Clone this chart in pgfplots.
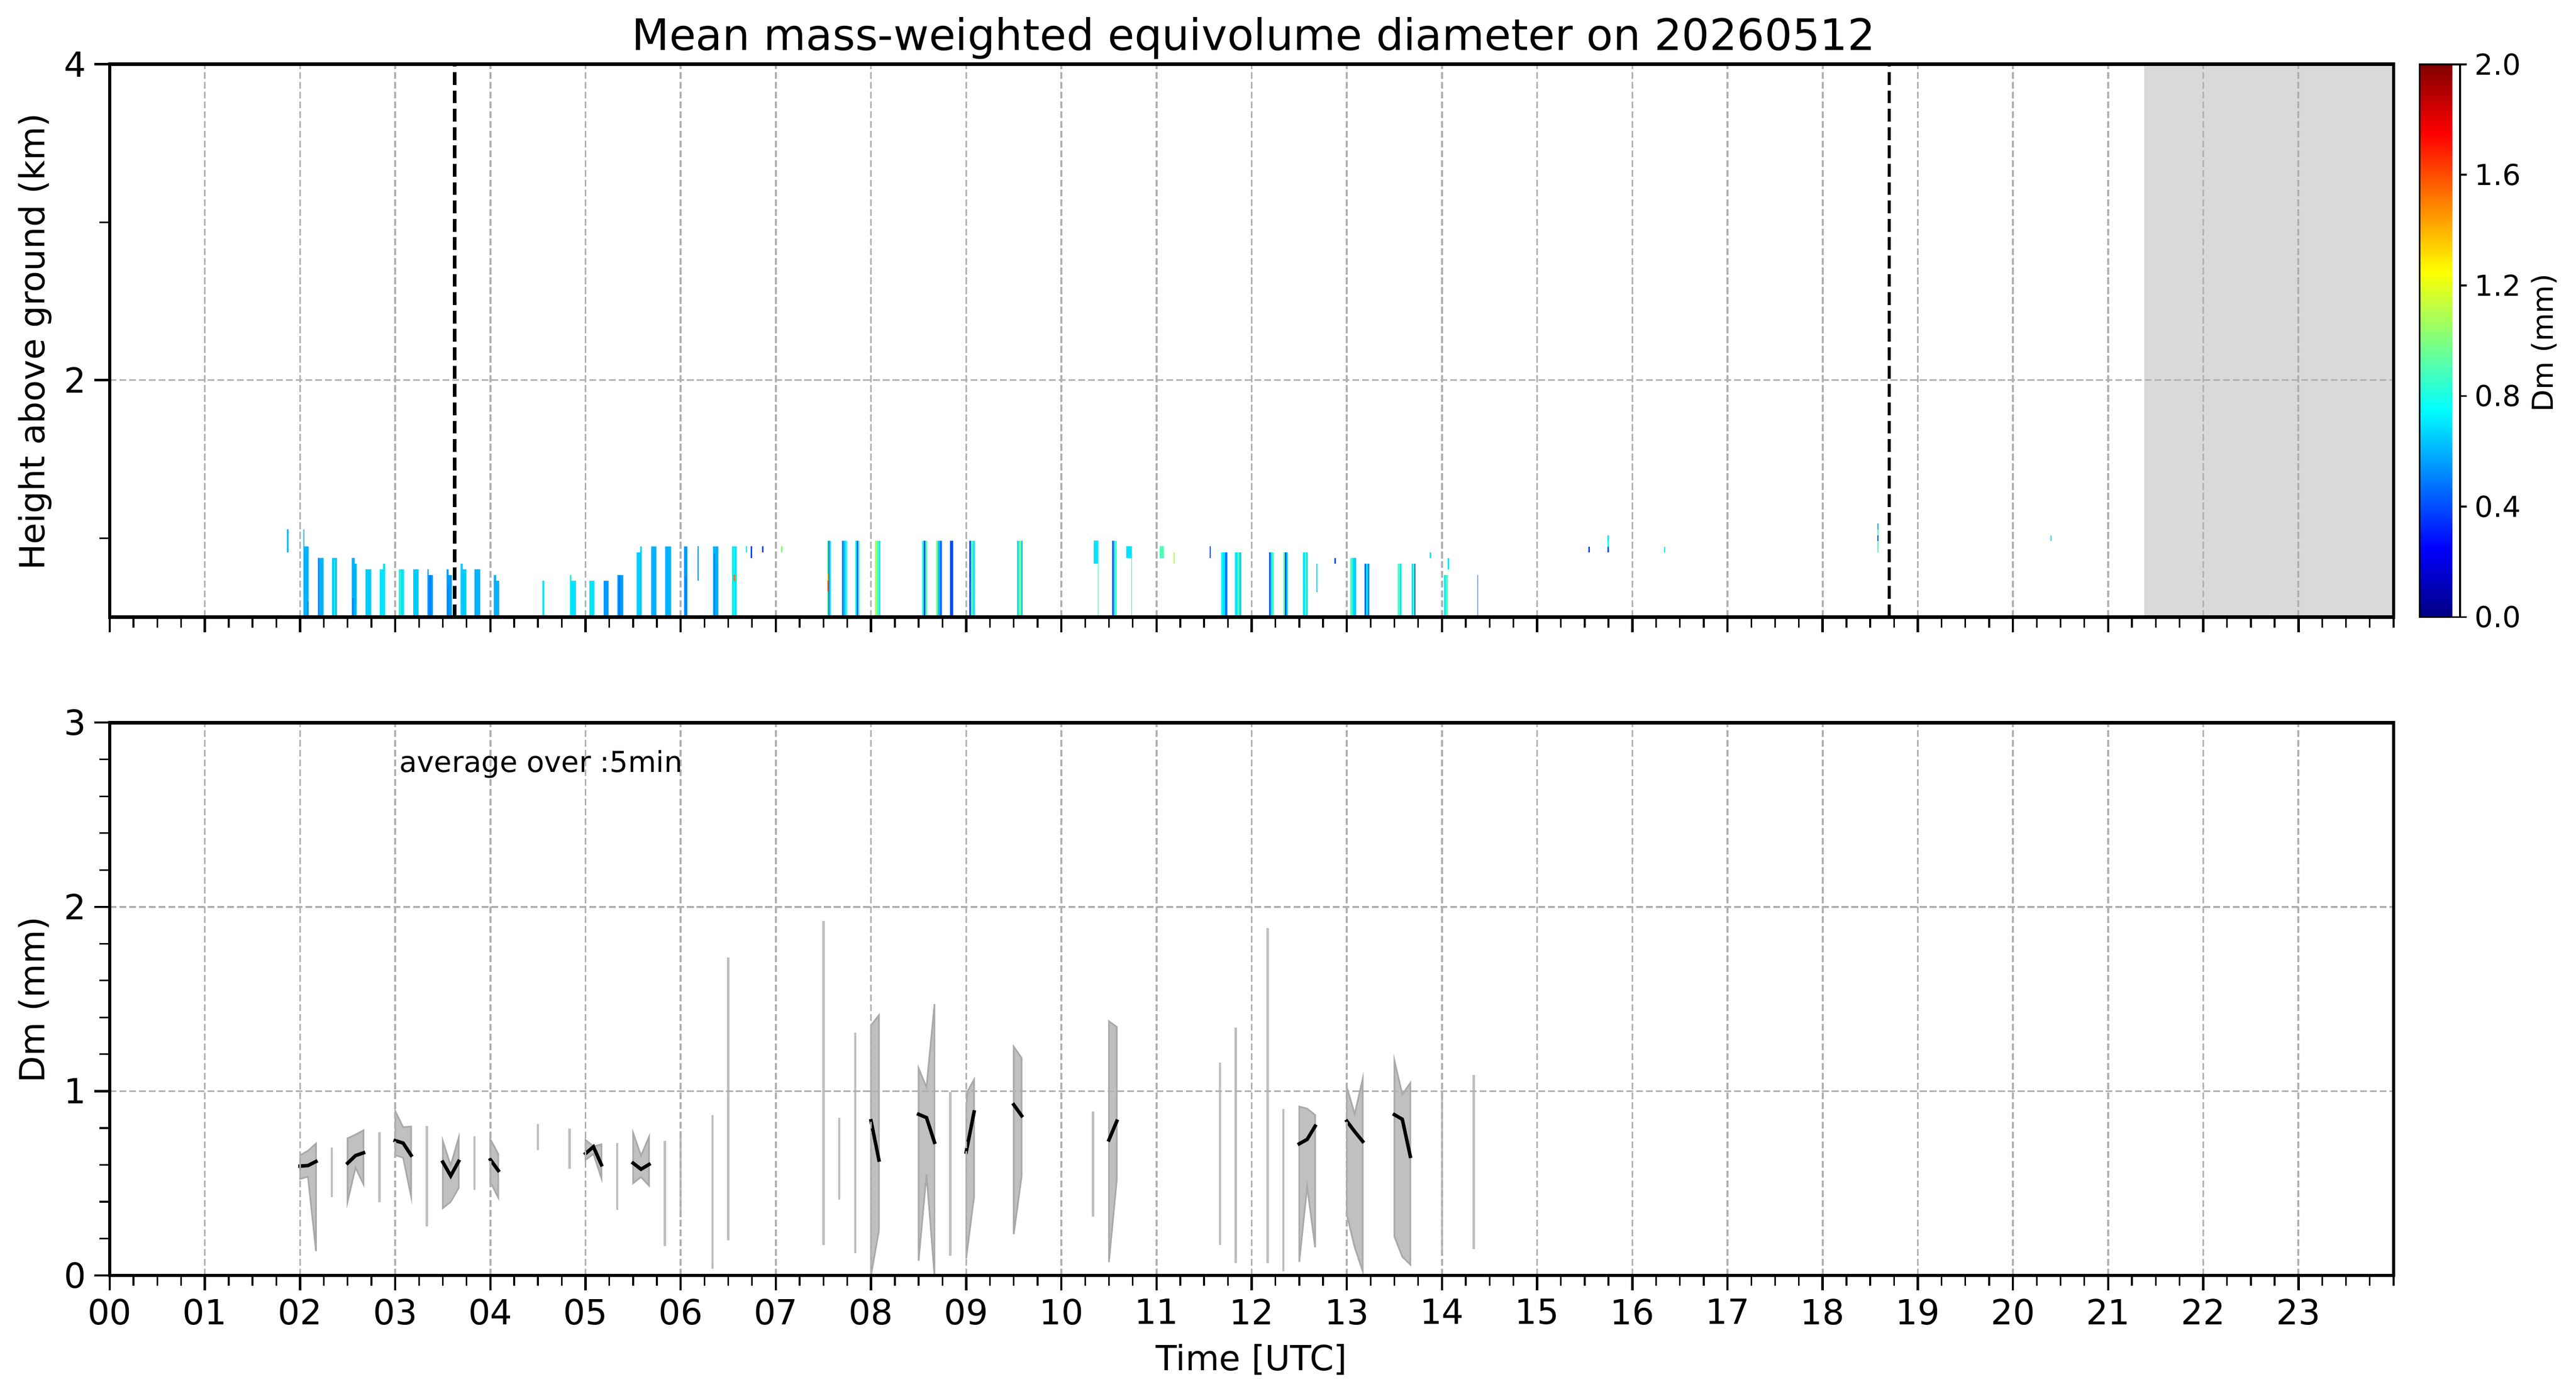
\documentclass[border=0pt]{standalone}
\usepackage{pgfplots}
\pgfplotsset{compat=1.18}
\usepackage{fontspec}
\setmainfont{DejaVu Sans}
\definecolor{jb}{rgb}{0,0.3,1}
\definecolor{jbb}{rgb}{0,0.45,1}
\definecolor{jB}{rgb}{0,0.6,1}
\definecolor{jC}{rgb}{0,0.7,1}
\definecolor{jD}{rgb}{0,0.8,1}
\definecolor{jE}{rgb}{0,0.9,1}
\definecolor{jF}{rgb}{0.1,1,0.9}
\definecolor{jG}{rgb}{0.3,1,0.7}
\definecolor{jH}{rgb}{0.5,1,0.5}
\definecolor{jI}{rgb}{0.7,1,0.3}
\definecolor{jY}{rgb}{1,0.85,0}
\definecolor{jO}{rgb}{1,0.45,0}
\definecolor{gridc}{HTML}{B0B0B0}
\definecolor{shade}{HTML}{D9D9D9}
\definecolor{bandfill}{HTML}{C0C0C0}
\definecolor{bandedge}{HTML}{A9A9A9}
\definecolor{linegray}{HTML}{BFBFBF}
\pgfplotsset{
  mystyle/.style={
    scale only axis, width=989.7pt, height=239.5pt,
    xmin=0, xmax=24,
    xtick={0,1,...,23},
    minor xtick={0,0.25,...,24},
    tick align=outside, tick pos=left,
    major tick length=6.6pt, minor tick length=4.5pt,
    every tick/.style={black, line width=1pt},
    every minor tick/.append style={line width=0.75pt},
    axis line style={line width=1.5pt},
    grid=major,
    major grid style={line width=0.8pt, gridc, dash pattern=on 2.96pt off 1.28pt},
    axis on top,
    tick label style={font=\fontsize{15}{18}\selectfont},
    /pgf/number format/assume math mode=true,
  }
}
\begin{document}
\begin{tikzpicture}
\path[use as bounding box] (0,0) rectangle (1116.3pt,604.65pt);

% ---------------- top panel ----------------
\begin{axis}[mystyle, at={(47.55pt,337.3pt)}, anchor=south west,
  ymin=0.5, ymax=4, ytick={2,4}, minor ytick={1,3},
  xticklabels={},
  colormap/jet, point meta min=0, point meta max=2,
  colorbar,
  colorbar style={
    at={(parent axis.north east)}, anchor=north west, xshift=2.71pt,
    scale only axis, width=17.55pt,
    ytick={0,0.4,0.8,1.2,1.6,2},
    ytick pos=right, yticklabel pos=right,
    tick align=outside, major tick length=2.9pt,
    every tick/.style={black, line width=0.8pt},
    axis line style={line width=0.8pt},
    yticklabel style={font=\fontsize{12.5}{15}\selectfont,
      /pgf/number format/.cd, fixed, fixed zerofill, precision=1, assume math mode=true},
  }]
\addplot[fill=shade, draw=none] coordinates {(21.38,0.5) (24,0.5) (24,4) (21.38,4)};

\addplot[ybar interval, fill=jB, draw=none] table[row sep=\\] {x y\\
3.339 0.803\\ 3.35 0.765\\ 3.396 0\\ 3.542 0.803\\ 3.56 0.765\\ 3.595 0\\
5.19 0.73\\ 5.243 0\\ 5.335 0.765\\ 5.396 0\\ 6.035 0.947\\ 6.07 0\\};
\addplot[ybar interval, fill=jC, draw=none] table[row sep=\\] {x y\\
2.035 1.055\\ 2.045 0.947\\ 2.089 0\\ 2.19 0.875\\ 2.247 0\\ 2.542 0.875\\ 2.575 0.838\\ 2.595 0\\
3.833 0.803\\ 3.894 0\\ 4.035 0.765\\ 4.06 0.73\\ 4.093 0\\ 5.69 0.947\\ 5.745 0\\
5.837 0.947\\ 5.899 0\\ 6.339 0.947\\ 6.396 0\\};
\addplot[ybar interval, fill=jD, draw=none] table[row sep=\\] {x y\\
2.335 0.875\\ 2.388 0\\ 2.687 0.803\\ 2.749 0\\ 3.19 0.803\\ 3.247 0\\ 3.687 0.838\\ 3.71 0.803\\ 3.749 0\\
5.537 0.91\\ 5.575 0.947\\ 5.59 0\\ 7.71 0.983\\ 7.735 0\\ 8.70 0.983\\ 8.72 0\\ 9.575 0.983\\ 9.593 0\\
11.87 0.91\\ 11.891 0\\ 12.575 0.91\\ 12.587 0\\ 13.075 0.875\\ 13.098 0\\};
\addplot[ybar interval, fill=jE, draw=none] table[row sep=\\] {x y\\
2.837 0.803\\ 2.872 0.838\\ 2.894 0\\ 3.04 0.803\\ 3.093 0\\ 4.546 0.73\\ 4.568 0\\ 4.837 0.765\\ 4.85 0.73\\ 4.899 0\\
5.04 0.73\\ 5.093 0\\ 6.54 0.947\\ 6.59 0\\ 7.562 0.983\\ 7.577 0\\ 8.08 0.983\\ 8.097 0\\ 9.07 0.983\\ 9.092 0\\
9.535 0.983\\ 9.555 0\\ 10.55 0.983\\ 10.565 0\\ 11.695 0.91\\ 11.72 0\\ 11.823 0.91\\ 11.85 0\\
12.2 0.91\\ 12.215 0\\ 12.365 0.91\\ 12.383 0\\ 12.538 0.91\\ 12.56 0\\ 13.055 0.875\\ 13.075 0\\
13.2 0.838\\ 13.22 0\\ 13.555 0.838\\ 13.575 0\\ 13.682 0.838\\ 13.70 0\\ 14.023 0.765\\ 14.04 0\\};
\addplot[ybar interval, fill=jF, draw=none] table[row sep=\\] {x y\\
7.735 0.983\\ 7.75 0\\ 7.833 0.983\\ 7.85 0\\ 8.537 0.983\\ 8.555 0\\ 10.735 0.875\\ 10.742 0\\ 11.677 0.91\\ 11.695 0\\};
\addplot[ybar interval, fill=jG, draw=none] table[row sep=\\] {x y\\
2.36 0.86\\ 2.366 0\\ 3.052 0.8\\ 3.058 0\\ 6.556 0.94\\ 6.562 0\\
7.54 0.983\\ 7.552 0\\ 7.865 0.983\\ 7.88 0\\ 8.06 0.983\\ 8.08 0\\ 8.57 0.983\\ 8.59 0\\ 9.05 0.983\\ 9.07 0\\
10.383 0.838\\ 10.39 0\\ 10.565 0.983\\ 10.582 0\\ 11.85 0.91\\ 11.87 0\\ 12.215 0.91\\ 12.232 0\\
12.334 0.91\\ 12.35 0\\ 12.56 0.91\\ 12.575 0\\ 13.035 0.875\\ 13.055 0\\ 13.536 0.838\\ 13.555 0\\
13.70 0.838\\ 13.71 0\\ 14.04 0.765\\ 14.062 0\\};
\addplot[ybar interval, fill=jH, draw=none] table[row sep=\\] {x y\\
8.683 0.983\\ 8.70 0\\ 9.555 0.983\\ 9.575 0\\};
\addplot[ybar interval, fill=jI, draw=none] table[row sep=\\] {x y\\
8.04 0.983\\ 8.06 0\\};
\addplot[ybar interval, fill=jb, draw=none] table[row sep=\\] {x y\\
7.552 0.983\\ 7.562 0\\ 7.85 0.983\\ 7.865 0\\ 8.555 0.983\\ 8.57 0\\ 8.829 0.983\\ 8.863 0\\
9.033 0.983\\ 9.05 0\\ 10.533 0.983\\ 10.55 0\\ 12.183 0.91\\ 12.2 0\\ 12.35 0.91\\ 12.365 0\\
13.186 0.838\\ 13.2 0\\ 13.71 0.838\\ 13.721 0\\ 14.372 0.765\\ 14.377 0\\};
\addplot[ybar interval, fill=jbb, draw=none] table[row sep=\\] {x y\\
2.08 0.6\\ 2.089 0\\ 2.19 0.875\\ 2.197 0\\ 2.55 0.62\\ 2.562 0\\ 3.36 0.765\\ 3.375 0\\ 3.55 0.7\\ 3.556 0\\
5.35 0.765\\ 5.36 0\\ 6.05 0.75\\ 6.06 0\\ 6.35 0.9\\ 6.36 0\\ 7.695 0.983\\ 7.71 0\\ 8.72 0.983\\ 8.746 0\\
11.72 0.91\\ 11.745 0\\ 13.22 0.838\\ 13.235 0\\};
% floating pieces
\addplot[fill=jE, draw=none] coordinates {(10.343,0.838) (10.387,0.838) (10.387,0.983) (10.343,0.983)};
\addplot[fill=jE, draw=none] coordinates {(10.684,0.875) (10.742,0.875) (10.742,0.947) (10.684,0.947)};
\addplot[fill=jG, draw=none] coordinates {(11.034,0.875) (11.078,0.875) (11.078,0.947) (11.034,0.947)};
\addplot[jC, line width=0.6pt, unbounded coords=jump] coordinates {(1.872,0.91) (1.872,1.055) (1.872,nan) (18.58,1.055) (18.58,1.092)};
\addplot[jB, line width=0.6pt] coordinates {(6.183,0.73) (6.183,0.947)};
\addplot[jE, line width=0.6pt, unbounded coords=jump] coordinates {(6.692,0.91) (6.692,0.947) (6.692,nan)
  (12.685,0.658) (12.685,0.838) (12.685,nan) (13.877,0.875) (13.877,0.91) (13.877,nan)
  (14.067,0.803) (14.067,0.875) (14.067,nan) (15.747,0.981) (15.747,1.018) (15.747,nan)
  (16.339,0.908) (16.339,0.946) (16.339,nan) (20.40,0.981) (20.40,1.018)};
\addplot[jb, line width=0.6pt, unbounded coords=jump] coordinates {(6.742,0.875) (6.742,0.947) (6.742,nan)
  (6.862,0.91) (6.862,0.947) (6.862,nan) (11.565,0.875) (11.565,0.947) (11.565,nan)
  (12.879,0.838) (12.879,0.875) (12.879,nan) (15.547,0.908) (15.547,0.946) (15.547,nan)
  (15.747,0.908) (15.747,0.946) (15.747,nan) (18.58,0.981) (18.58,1.016)};
\addplot[jH, line width=0.6pt] coordinates {(7.062,0.91) (7.062,0.947)};
\addplot[jI, line width=0.6pt] coordinates {(11.185,0.838) (11.185,0.91)};
\addplot[jG, line width=0.6pt, unbounded coords=jump] coordinates {(18.58,0.908) (18.58,0.981) (18.58,nan) (18.58,1.016) (18.58,1.055)};
\addplot[jF, line width=0.6pt] coordinates {(15.747,0.946) (15.747,0.981)};
\addplot[jO, line width=0.6pt, unbounded coords=jump] coordinates {(6.565,0.73) (6.565,0.77) (6.565,nan) (7.547,0.66) (7.547,0.73)};
\addplot[jY, line width=0.6pt] coordinates {(7.547,0.73) (7.547,0.78)};
% dashed markers
\addplot[black, line width=1.5pt, dash pattern=on 5.55pt off 2.4pt] coordinates {(3.625,0.5) (3.625,4)};
\addplot[black, line width=1.5pt, dash pattern=on 5.55pt off 2.4pt] coordinates {(18.70,0.5) (18.70,4)};
\end{axis}

% ---------------- bottom panel ----------------
\begin{axis}[mystyle, at={(47.55pt,52.1pt)}, anchor=south west,
  ymin=0, ymax=3, ytick={0,1,2,3},
  minor ytick={0.2,0.4,0.6,0.8,1.2,1.4,1.6,1.8,2.2,2.4,2.6,2.8},
  xticklabels={00,01,02,03,04,05,06,07,08,09,10,11,12,13,14,15,16,17,18,19,20,21,22,23}]
% single-sample ranges
\addplot[linegray, line width=1pt, unbounded coords=jump] coordinates {
 (2.333,0.426) (2.333,0.692) (2.333,nan)
 (2.833,0.398) (2.833,0.777) (2.833,nan)
 (3.333,0.266) (3.333,0.810) (3.333,nan)
 (3.833,0.464) (3.833,0.755) (3.833,nan)
 (4.5,0.679) (4.5,0.821) (4.5,nan)
 (4.833,0.580) (4.833,0.797) (4.833,nan)
 (5.333,0.356) (5.333,0.718) (5.333,nan)
 (5.833,0.158) (5.833,0.731) (5.833,nan)
 (6.0,0.316) (6.0,0.784) (6.0,nan)
 (6.333,0.036) (6.333,0.870) (6.333,nan)
 (6.5,0.191) (6.5,1.726) (6.5,nan)
 (7.5,0.165) (7.5,1.924) (7.5,nan)
 (7.667,0.412) (7.667,0.856) (7.667,nan)
 (7.833,0.119) (7.833,1.318) (7.833,nan)
 (8.833,0.105) (8.833,0.995) (8.833,nan)
 (10.333,0.319) (10.333,0.889) (10.333,nan)
 (11.667,0.165) (11.667,1.155) (11.667,nan)
 (11.833,0.066) (11.833,1.344) (11.833,nan)
 (12.167,0.066) (12.167,1.884) (12.167,nan)
 (12.333,0.022) (12.333,0.902) (12.333,nan)
 (14.0,0.138) (14.0,0.995) (14.0,nan)
 (14.333,0.142) (14.333,1.089)};
% ranges (min-max bands)
\addplot[fill=bandfill, draw=bandedge, line width=0.7pt] coordinates {(2.0,0.652) (2.083,0.676) (2.167,0.715) (2.167,0.132) (2.147,0.23) (2.083,0.536) (2.0,0.523)} -- cycle;
\addplot[fill=bandfill, draw=bandedge, line width=0.7pt] coordinates {(2.5,0.744) (2.583,0.764) (2.667,0.787) (2.667,0.494) (2.583,0.584) (2.5,0.402)} -- cycle;
\addplot[fill=bandfill, draw=bandedge, line width=0.7pt] coordinates {(3.0,0.892) (3.083,0.804) (3.167,0.808) (3.167,0.428) (3.083,0.639) (3.0,0.652)} -- cycle;
\addplot[fill=bandfill, draw=bandedge, line width=0.7pt] coordinates {(3.5,0.729) (3.583,0.597) (3.667,0.747) (3.667,0.474) (3.583,0.399) (3.5,0.365)} -- cycle;
\addplot[fill=bandfill, draw=bandedge, line width=0.7pt] coordinates {(4.0,0.738) (4.083,0.659) (4.083,0.422) (4.0,0.507)} -- cycle;
\addplot[fill=bandfill, draw=bandedge, line width=0.7pt] coordinates {(5.0,0.735) (5.083,0.700) (5.167,0.711) (5.167,0.527) (5.083,0.660) (5.0,0.626)} -- cycle;
\addplot[fill=bandfill, draw=bandedge, line width=0.7pt] coordinates {(5.5,0.773) (5.583,0.650) (5.667,0.751) (5.667,0.487) (5.583,0.534) (5.5,0.500)} -- cycle;
\addplot[fill=bandfill, draw=bandedge, line width=0.7pt] coordinates {(8.0,1.357) (8.083,1.412) (8.083,0.244) (8.0,0.0)} -- cycle;
\addplot[fill=bandfill, draw=bandedge, line width=0.7pt] coordinates {(8.5,1.124) (8.583,1.021) (8.667,1.472) (8.667,0.0) (8.583,0.547) (8.5,0.079)} -- cycle;
\addplot[fill=bandfill, draw=bandedge, line width=0.7pt] coordinates {(9.0,0.916) (9.015,1.0) (9.083,1.063) (9.083,0.428) (9.0,0.092)} -- cycle;
\addplot[fill=bandfill, draw=bandedge, line width=0.7pt] coordinates {(9.5,1.241) (9.583,1.179) (9.583,0.540) (9.5,0.224)} -- cycle;
\addplot[fill=bandfill, draw=bandedge, line width=0.7pt] coordinates {(10.5,1.379) (10.583,1.348) (10.583,0.520) (10.5,0.072)} -- cycle;
\addplot[fill=bandfill, draw=bandedge, line width=0.7pt] coordinates {(12.5,0.916) (12.583,0.905) (12.667,0.870) (12.667,0.152) (12.583,0.481) (12.5,0.072)} -- cycle;
\addplot[fill=bandfill, draw=bandedge, line width=0.7pt] coordinates {(13.0,1.021) (13.083,0.876) (13.167,1.067) (13.167,0.022) (13.083,0.152) (13.0,0.329)} -- cycle;
\addplot[fill=bandfill, draw=bandedge, line width=0.7pt] coordinates {(13.5,1.166) (13.583,0.982) (13.667,1.044) (13.667,0.059) (13.583,0.101) (13.5,0.210)} -- cycle;
% mean
\addplot[black, line width=1.5pt, line cap=rect, unbounded coords=jump] coordinates {
 (2.0,0.593) (2.083,0.596) (2.167,0.618) (2.167,nan)
 (2.5,0.609) (2.583,0.650) (2.667,0.665) (2.667,nan)
 (3.0,0.731) (3.083,0.718) (3.167,0.652) (3.167,nan)
 (3.5,0.615) (3.583,0.540) (3.667,0.619) (3.667,nan)
 (4.0,0.628) (4.083,0.569) (4.083,nan)
 (5.0,0.661) (5.083,0.698) (5.167,0.600) (5.167,nan)
 (5.5,0.609) (5.583,0.576) (5.667,0.602) (5.667,nan)
 (8.0,0.839) (8.083,0.626) (8.083,nan)
 (8.5,0.874) (8.583,0.856) (8.667,0.722) (8.667,nan)
 (9.0,0.669) (9.083,0.887) (9.083,nan)
 (9.5,0.926) (9.583,0.866) (9.583,nan)
 (10.5,0.735) (10.583,0.837) (10.583,nan)
 (12.5,0.714) (12.583,0.738) (12.667,0.810) (12.667,nan)
 (13.0,0.837) (13.083,0.780) (13.167,0.727) (13.167,nan)
 (13.5,0.872) (13.583,0.847) (13.667,0.646)};
\end{axis}

% ---------------- texts ----------------
\node[anchor=base, font=\fontsize{18.8}{22}\selectfont] at (543.2pt,582.9pt) {Mean mass-weighted equivolume diameter on 20260512};
\node[rotate=90, anchor=base, font=\fontsize{15}{18}\selectfont] at (19.3pt,456.5pt) {Height above ground (km)};
\node[rotate=90, anchor=base, font=\fontsize{15}{18}\selectfont] at (19.3pt,171.5pt) {Dm (mm)};
\node[anchor=base, font=\fontsize{15}{18}\selectfont] at (542.4pt,10.95pt) {Time [UTC]};
\node[anchor=base west, inner sep=0pt, font=\fontsize{12.5}{15}\selectfont] at (172.9pt,270pt) {average over :5min};
\node[rotate=90, anchor=base, font=\fontsize{12.5}{15}\selectfont] at (1106.25pt,456pt) {Dm (mm)};
\end{tikzpicture}
\end{document}
